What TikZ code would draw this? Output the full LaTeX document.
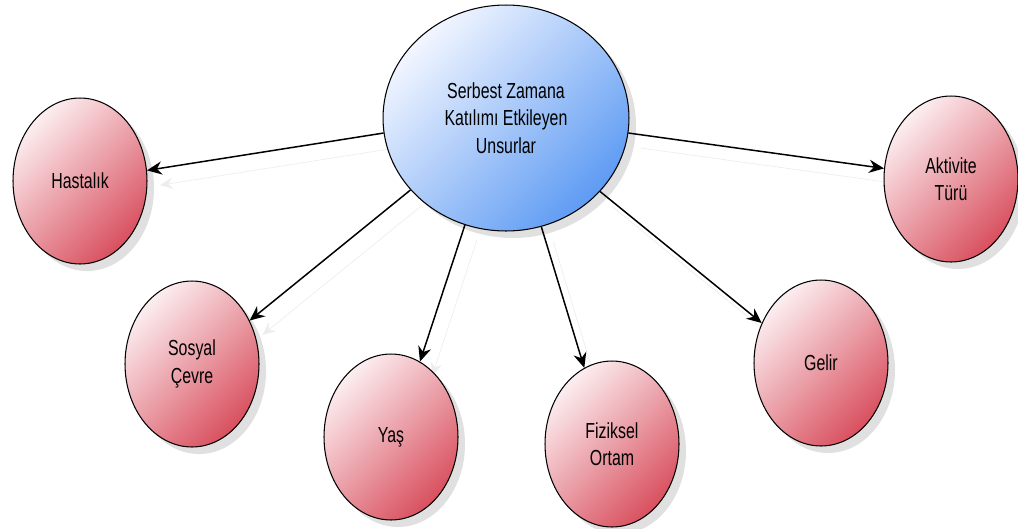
\documentclass[tikz,border=0pt]{standalone}
\usepackage{fontspec}
\setmainfont[FakeStretch=0.73]{Liberation Sans}
\usetikzlibrary{shapes.geometric,arrows.meta,shadows,backgrounds}

\definecolor{mainlight}{HTML}{F2F6FF}
\definecolor{maindark}{HTML}{5E9BF3}
\definecolor{factlight}{HTML}{FCEEF0}
\definecolor{factdark}{HTML}{D9505F}

\tikzset{
  blob/.style={ellipse, draw=black, line width=0.6pt, align=center,
    font=\fontsize{12.4}{15.6}\selectfont,
    drop shadow={shadow xshift=4pt, shadow yshift=-4pt, fill=black, opacity=0.12}},
  hub/.style={blob, minimum width=4.92cm, minimum height=4.52cm,
    top color=mainlight, bottom color=maindark, shading angle=45},
  factor/.style={blob, minimum width=2.68cm, minimum height=3.32cm,
    top color=factlight, bottom color=factdark, shading angle=45},
  link/.style={line width=0.85pt, -{Stealth[length=8.5pt, width=7.5pt]},
    preaction={draw=black!7, transform canvas={shift={(0.24cm,-0.3cm)}}}}
}

\begin{document}
\begin{tikzpicture}[x=0.02cm, y=-0.02cm]
  \useasboundingbox (0,0) rectangle (1018,528);
  % hub and factors
  \node[hub] (main) at (506,118) {Serbest Zamana\\Katılımı Etkileyen\\Unsurlar};
  \node[factor] (hast) at (80,181) {Hastalık};
  \node[factor] (sosyal) at (192,364) {Sosyal\\Çevre};
  \node[factor] (yas) at (391,437) {Yaş};
  \node[factor] (fiz) at (612,444) {Fiziksel\\Ortam};
  \node[factor] (gelir) at (821,363) {Gelir};
  \node[factor] (akt) at (951,179) {Aktivite\\Türü};
  % arrows, kept under the nodes
  \begin{scope}[on background layer]
    \draw[link] (main.187) -- (hast.9);
    \draw[link] (main.217) -- (sosyal.37);
    \draw[link] (main.249) -- (yas.69);
    \draw[link] (main.-72) -- (fiz.110);
    \draw[link] (main.-38) -- (gelir.146);
    \draw[link] (main.-7) -- (akt.171);
  \end{scope}
\end{tikzpicture}
\end{document}
